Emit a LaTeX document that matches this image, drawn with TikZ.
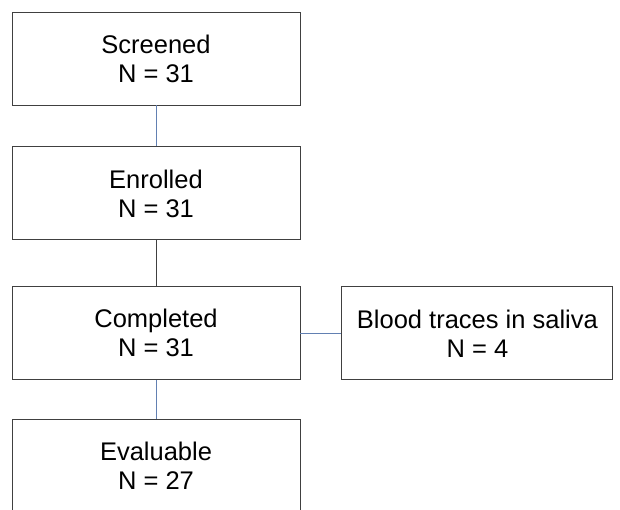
\documentclass[tikz,border=0pt]{standalone}
\usepackage{fontspec}
\setmainfont{Liberation Sans}
\usepackage{tikz}
\usetikzlibrary{positioning}
\definecolor{linkblue}{RGB}{98,128,178}
\definecolor{boxgray}{RGB}{64,64,64}

\begin{document}
\begin{tikzpicture}[
    x=1pt, y=1pt,
    stage/.style={draw=boxgray, line width=0.9pt, fill=white, align=center,
      minimum width=288pt, minimum height=93pt, inner sep=0pt,
      font=\fontsize{25.5}{29}\selectfont},
    side/.style={stage, minimum width=271pt},
    link/.style={draw=linkblue, line width=0.9pt},
    darklink/.style={draw=boxgray, line width=0.9pt},
    node distance=41pt
  ]

  \useasboundingbox (0,0) rectangle (620,-510);

  % Define nodes

  \node[stage] (screened) at (156,-58.5) {Screened\\N = 31};
  \node[stage, below=41pt of screened] (enrolled) {Enrolled\\N = 31};
  \node[stage, below=46pt of enrolled] (completed) {Completed\\N = 31};
  \node[side, right=of completed] (blood) {Blood traces in saliva\\N = 4};
  \node[stage, below=39pt of completed] (evaluable) {Evaluable\\N = 27};

  % Connect the nodes
  \draw[link] (screened) -- (enrolled);
  \draw[darklink] (enrolled) -- (completed);
  \draw[link] (completed) -- (blood);
  \draw[link] (completed) -- (evaluable);

\end{tikzpicture}
\end{document}
